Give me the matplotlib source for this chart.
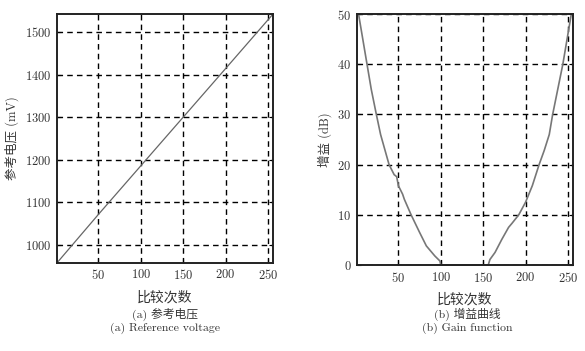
import matplotlib
matplotlib.use("Agg")
import matplotlib.pyplot as plt

plt.rcParams["font.family"] = ["cmr10", "Noto Sans CJK SC", "DejaVu Sans"]
plt.rcParams["axes.formatter.use_mathtext"] = True

# (a) reference voltage vs comparison count
ref_x = [1, 50, 100, 150, 200, 256]
ref_mv = [958, 1072, 1186, 1300, 1414, 1542]

# (b) gain curve vs comparison count
gain_x = [3, 8, 13, 18, 24, 29, 34, 39, 45, 48, 50, 55, 57, 65, 75, 83, 93, 99, 100,
          156, 158, 164, 172, 180, 184, 192, 200, 208, 216, 222, 228, 232, 238, 244,
          248, 250, 252, 254]
gain_db = [50, 45, 40, 35, 30, 26, 23, 20, 18, 17.6, 15.8, 14.1, 13.1, 10, 6.5, 3.8, 1.8, 0.8, 0,
           0, 1.1, 2.5, 5.1, 7.5, 8.3, 10, 12.5, 15.8, 20, 22.8, 26, 30, 35, 40,
           44, 46, 48, 50]

x_ticks = [50, 100, 150, 200, 250]
ref_ticks = [1000, 1100, 1200, 1300, 1400, 1500]
gain_ticks = [0, 10, 20, 30, 40, 50]

TXT = "#333333"

fig = plt.figure(figsize=(5.85, 3.51), dpi=100)
ax1 = fig.add_axes([0.0974, 0.251, 0.3693, 0.709])
ax2 = fig.add_axes([0.610, 0.245, 0.3695, 0.715])


def style(ax):
    ax.grid(True, color="black", linestyle=(0, (4, 3)), linewidth=1.0)
    for s in ax.spines.values():
        s.set_linewidth(1.4)
        s.set_color("#222222")
    ax.tick_params(direction="in", length=3, width=0.8, labelsize=9,
                   labelcolor=TXT, top=False, right=True, pad=4)
    ax.set_xticks(x_ticks)
    ax.set_xlim(1, 256)


ax1.plot(ref_x, ref_mv, color="#666666", linewidth=0.9)
style(ax1)
ax1.set_yticks(ref_ticks)
ax1.set_ylim(958, 1542)
ax1.set_xlabel("比较次数", fontsize=10, color=TXT, labelpad=6)
ax1.set_ylabel("参考电压 (mV)", fontsize=9, color=TXT, labelpad=4)

ax2.plot(gain_x, gain_db, color="#777777", linewidth=1.2, clip_on=False)
style(ax2)
ax2.set_yticks(gain_ticks)
ax2.set_ylim(0, 50)
ax2.set_xlabel("比较次数", fontsize=10, color=TXT, labelpad=6)
ax2.set_ylabel("增益 (dB)", fontsize=9, color=TXT, labelpad=4)

fig.text(0.282, 0.094, "(a) 参考电压", ha="center", fontsize=8.5, color=TXT)
fig.text(0.282, 0.057, "(a) Reference voltage", ha="center", fontsize=8.5, color=TXT)
fig.text(0.798, 0.094, "(b) 增益曲线", ha="center", fontsize=8.5, color=TXT)
fig.text(0.798, 0.057, "(b) Gain function", ha="center", fontsize=8.5, color=TXT)

fig.savefig("out.png", dpi=100)
